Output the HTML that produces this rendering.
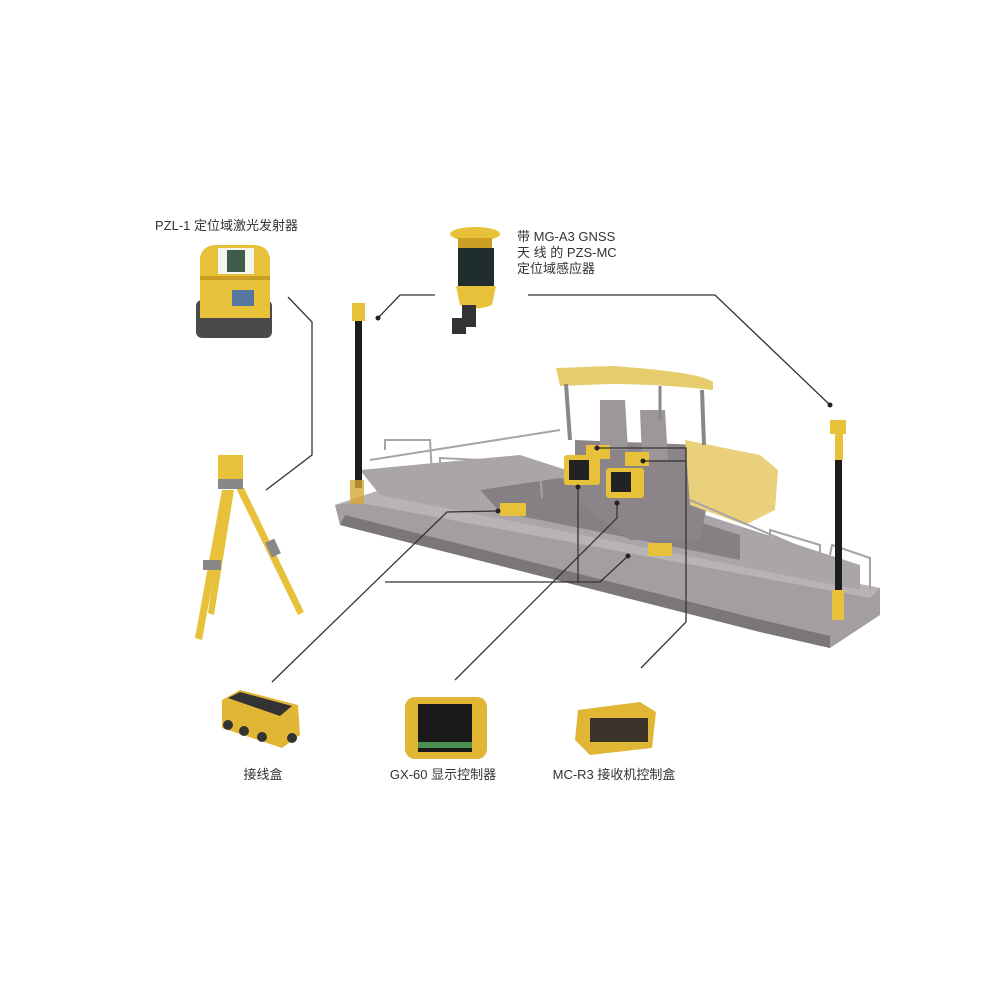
<!DOCTYPE html>
<html><head><meta charset="utf-8"><style>
html,body{margin:0;padding:0;background:#fff;}
svg{display:block}
text{font-family:"Liberation Sans","Noto Sans CJK SC",sans-serif;fill:#333;font-size:13px;}
</style></head><body>
<svg width="1000" height="1000" viewBox="0 0 1000 1000" xmlns="http://www.w3.org/2000/svg">
<rect width="1000" height="1000" fill="#fff"/>
<text x="155" y="230">PZL-1 定位域激光发射器</text>
<text x="517" y="241">带 MG-A3 GNSS</text>
<text x="517" y="257">天 线 的 PZS-MC</text>
<text x="517" y="273">定位域感应器</text>
<text x="263" y="779" text-anchor="middle">接线盒</text>
<text x="443" y="779" text-anchor="middle">GX-60 显示控制器</text>
<text x="614" y="779" text-anchor="middle">MC-R3 接收机控制盒</text>

<!-- Laser transmitter -->
<rect x="196" y="300" width="76" height="38" rx="6" fill="#4a4a4a"/>
<path d="M200 258 Q202 246 215 245 L255 245 Q268 246 270 258 L270 318 L200 318 Z" fill="#e8c13a"/>
<rect x="218" y="248" width="36" height="26" fill="#f5f5f0"/>
<rect x="227" y="250" width="18" height="22" fill="#3d5c4c"/>
<rect x="232" y="290" width="22" height="16" fill="#5577a0"/>
<rect x="200" y="276" width="70" height="4" fill="#c99e22"/>

<!-- GNSS sensor -->
<ellipse cx="475" cy="234" rx="25" ry="7" fill="#e8c13a"/>
<rect x="458" y="238" width="34" height="12" fill="#c99e22"/>
<rect x="458" y="248" width="36" height="40" fill="#1e2d2c"/>
<path d="M456 286 L496 286 L492 305 Q475 312 460 305 Z" fill="#e8c13a"/>
<rect x="462" y="305" width="14" height="22" fill="#333"/>
<rect x="452" y="318" width="14" height="16" fill="#333"/>

<!-- Tripod -->
<g fill="#e8c13a">
<rect x="218" y="455" width="25" height="24"/>
<polygon points="222,490 230,490 202,640 195,638"/>
<polygon points="226,490 234,490 214,615 208,613"/>
<polygon points="236,488 244,488 304,612 298,615"/>
</g>
<rect x="218" y="479" width="25" height="10" fill="#888"/>
<rect x="203" y="560" width="18" height="10" fill="#888"/>
<rect x="268" y="540" width="10" height="16" fill="#888" transform="rotate(-25 273 548)"/>

<!-- Paver screed -->
<polygon points="335,505 380,490 880,588 880,615 830,648 760,632 340,525" fill="#a29ea1"/>
<polygon points="335,505 380,490 880,588 870,598 355,502" fill="#b7b3b6"/>
<polygon points="340,525 760,632 830,648 830,636 762,620 345,515" fill="#7b767a"/>
<polygon points="360,470 520,455 860,565 860,590 380,495" fill="#a9a5a8"/>
<polygon points="480,490 560,478 740,535 740,560 500,512" fill="#858084"/>
<!-- tractor -->
<polygon points="575,440 700,445 712,480 700,540 630,540 575,500" fill="#8b8589"/>
<polygon points="600,400 625,400 628,450 600,450" fill="#9d979b"/>
<polygon points="640,410 665,410 668,460 642,460" fill="#9d979b"/>
<polygon points="685,440 760,455 778,470 775,510 745,525 690,505" fill="#ead07a"/>
<path d="M556 368 L612 366 Q700 372 713 382 L713 390 Q660 384 610 384 L560 386 Z" fill="#e6cc6a"/>
<line x1="566" y1="384" x2="570" y2="440" stroke="#888" stroke-width="4"/>
<line x1="702" y1="390" x2="704" y2="445" stroke="#888" stroke-width="4"/>
<line x1="660" y1="386" x2="660" y2="420" stroke="#888" stroke-width="3"/>
<g stroke="#a8a3a6" stroke-width="2" fill="none">
<path d="M385 450 L385 440 L430 440 L432 475"/>
<path d="M440 470 L440 458 L480 460 L482 490"/>
<path d="M490 478 L495 468 L540 470 L542 498"/>
<path d="M770 540 L770 530 L820 545 L820 575"/>
<path d="M830 555 L832 545 L870 558 L870 590"/>
<path d="M370 460 L560 430"/>
<path d="M690 500 L830 560"/>
</g>
<!-- poles -->
<rect x="355" y="318" width="7" height="170" fill="#1c1c1c"/>
<rect x="352" y="303" width="13" height="18" fill="#e8c13a"/>
<rect x="350" y="480" width="14" height="24" fill="#d4a933" opacity="0.8"/>
<rect x="835" y="440" width="7" height="180" fill="#1c1c1c"/>
<rect x="830" y="420" width="16" height="14" fill="#e8c13a"/>
<rect x="835" y="434" width="8" height="26" fill="#e8c13a"/>
<rect x="832" y="590" width="12" height="30" fill="#e8c13a"/>
<!-- devices on paver -->
<rect x="564" y="455" width="36" height="30" rx="3" fill="#e8c13a"/>
<rect x="569" y="460" width="20" height="20" fill="#222"/>
<rect x="606" y="468" width="38" height="30" rx="3" fill="#e8c13a"/>
<rect x="611" y="472" width="20" height="20" fill="#222"/>
<rect x="586" y="445" width="24" height="14" fill="#e8c13a"/>
<rect x="625" y="452" width="24" height="14" fill="#e8c13a"/>
<rect x="500" y="503" width="26" height="13" fill="#e8c13a"/>
<rect x="648" y="543" width="24" height="13" fill="#e8c13a"/>

<g stroke="#333" stroke-width="1.3" fill="none">
<path d="M288 297 L312 322 L312 455 L266 490"/>
<path d="M378 318 L400 295 L435 295"/>
<path d="M528 295 L715 295 L830 405"/>
<path d="M498 511 L447 512 L272 682"/>
<path d="M385 582 L600 582 L628 556"/>
<path d="M578 487 L578 582"/>
<path d="M617 503 L617 518 L455 680"/>
<path d="M597 448 L686 448 L686 622 L641 668"/>
<path d="M643 461 L686 461"/>
</g>
<g fill="#222">
<circle cx="378" cy="318" r="2.5"/><circle cx="830" cy="405" r="2.5"/>
<circle cx="498" cy="511" r="2.5"/><circle cx="617" cy="503" r="2.5"/>
<circle cx="578" cy="487" r="2.5"/><circle cx="628" cy="556" r="2.5"/>
<circle cx="597" cy="448" r="2.5"/><circle cx="643" cy="461" r="2.5"/>
</g>

<polygon points="222,700 240,690 298,705 300,735 282,748 222,728" fill="#e0b634"/>
<polygon points="228,698 240,692 292,706 280,716" fill="#333"/>
<circle cx="228" cy="725" r="5" fill="#333"/><circle cx="244" cy="731" r="5" fill="#333"/>
<circle cx="262" cy="737" r="5" fill="#333"/><circle cx="292" cy="738" r="5" fill="#333"/>
<rect x="405" y="697" width="82" height="62" rx="10" fill="#e0b634"/>
<rect x="418" y="704" width="54" height="48" fill="#1a1a1a"/>
<rect x="418" y="742" width="54" height="6" fill="#4a9050"/>
<polygon points="578,710 640,702 656,712 652,748 590,755 575,740" fill="#e0b634"/>
<rect x="590" y="718" width="58" height="24" fill="#3a342a"/>
</svg>
</body></html>
